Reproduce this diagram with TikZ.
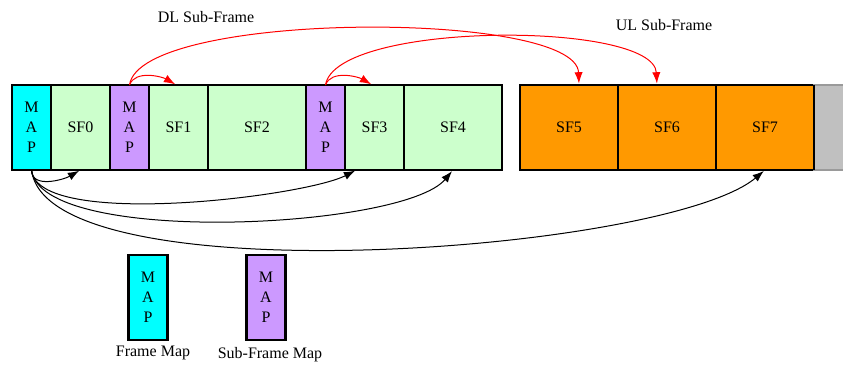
\documentclass[tikz,border=0pt]{standalone}
\usepackage{fontspec}
\setmainfont{Liberation Serif}
\usetikzlibrary{arrows.meta,positioning,calc}
\definecolor{framecyan}{HTML}{00FFFF}
\definecolor{submapv}{HTML}{CC99FF}
\definecolor{dlgreen}{HTML}{CCFFCC}
\definecolor{ulorange}{HTML}{FF9900}
\definecolor{nextgray}{HTML}{C0C0C0}
\definecolor{nextedge}{HTML}{9A9A9A}

\begin{document}
\begin{tikzpicture}[x=0.75pt,y=0.75pt,node distance=0pt,
        every node/.style={font=\fontsize{12}{15}\selectfont},
        block/.style={draw,rectangle,line width=2.2pt,minimum height=63.75pt,inner sep=0pt,outer sep=0pt,node distance=0pt},
        mapblk/.style={block,minimum width=29.25pt,align=center},
        narrow/.style={block,minimum width=44.25pt,fill=dlgreen},
        wide/.style={block,minimum width=73.5pt,fill=dlgreen},
        ul/.style={fill=ulorange},
        link/.style={line width=0.75pt,shorten >=1.1pt,-{Latex[length=8.5pt,width=6.2pt]}}]
   \useasboundingbox (-12,-280) rectangle (831,85);

   % frame: DL part
   \node (M0) [mapblk,fill=framecyan,anchor=north west] at (0,0) {M\\A\\P};
   \node (SF0) [narrow,right=of M0] {SF0};
   \node (M1) [mapblk,fill=submapv,right=of SF0] {M\\A\\P};
   \node (SF1) [narrow,right=of M1] {SF1};
   \node (SF2) [wide,right=of SF1] {SF2};
   \node (M2) [mapblk,fill=submapv,right=of SF2] {M\\A\\P};
   \node (SF3) [narrow,right=of M2] {SF3};
   \node (SF4) [wide,right=of SF3] {SF4};

   % UL part
   \node (SF5) [wide,ul,right=13.5pt of SF4] {SF5};
   \node (SF6) [wide,ul,right=of SF5] {SF6};
   \node (SF7) [wide,ul,right=of SF6] {SF7};
   \node (NX) [block,minimum width=60pt,fill=nextgray,draw=nextedge,line width=1.5pt,right=of SF7] {};
   \draw[line width=2.2pt] (SF7.north east) -- (SF7.south east);

   \node (dl) at (194,68) {DL Sub-Frame};
   \node (ulb) at (652,60) {UL Sub-Frame};

   % sub-frame maps
   \draw[link,red] (M1.north) to[out=70,in=150,looseness=0.9] ($(SF1.north)+(-2,0)$);
   \draw[link,red] (M1.north) to[out=82,in=92,looseness=0.43] ($(SF5.north)+(10,0)$);
   \draw[link,red] (M2.north) to[out=70,in=150,looseness=0.9] ($(SF3.north)+(-2,0)$);
   \draw[link,red] (M2.north) to[out=81,in=93,looseness=0.5] ($(SF6.north)+(-10,0)$);

   % frame map
   \draw[link] (M0.south) to[out=-90,in=-150,looseness=1] (SF0.south);
   \draw[link] (M0.south) to[out=-85,in=-153,looseness=0.47] ($(SF3.south)+(-18,0)$);
   \draw[link] (M0.south) to[out=-83,in=-130,looseness=0.47] (SF4.south);
   \draw[link] (M0.south) to[out=-83,in=-140,looseness=0.45] (SF7.south);

   % legend
   \node (LF) [mapblk,fill=framecyan] at (136,-212.5) {M\\A\\P};
   \node (LS) [mapblk,fill=submapv] at (254,-212.5) {M\\A\\P};
   \node (LFt) at (141,-268) {Frame Map};
   \node (LSt) at (258,-270) {Sub-Frame Map};

\end{tikzpicture}
\end{document}
